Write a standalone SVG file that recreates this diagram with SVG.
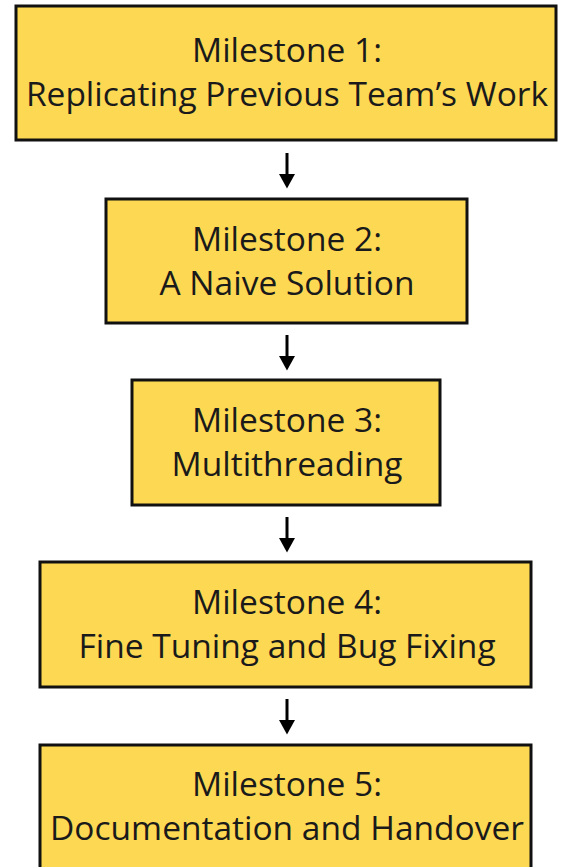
<svg xmlns="http://www.w3.org/2000/svg" width="563" height="867" viewBox="0 0 563 867">
<style>
.box{fill:#fdd853;stroke:#111;stroke-width:3}
.t{font-family:"Open Sans","Noto Sans",sans-serif;font-size:33.5px;fill:#1a1a1a;text-anchor:middle}
.c{stroke:#000;stroke-width:3;fill:none}
</style>
<defs>
<marker id="ah" markerWidth="5" markerHeight="5.5" refX="1.5" refY="2.75" orient="auto" markerUnits="strokeWidth" viewBox="0 0 5 5.5">
<path d="M0,0 L5,2.75 L0,5.5 Z" fill="#000"/>
</marker>
</defs>
<rect width="563" height="867" fill="#fff"/>
<g id="connectors">
<line class="c" x1="287" y1="153" x2="287" y2="178" marker-end="url(#ah)"/>
<line class="c" x1="287" y1="335" x2="287" y2="360" marker-end="url(#ah)"/>
<line class="c" x1="287" y1="517" x2="287" y2="542" marker-end="url(#ah)"/>
<line class="c" x1="287" y1="699" x2="287" y2="724" marker-end="url(#ah)"/>
</g>
<g id="m1">
<rect class="box" x="16" y="6" width="540" height="134"/>
<text class="t" x="287" y="62">Milestone 1:</text>
<text class="t" x="287" y="106">Replicating Previous Team’s Work</text>
</g>
<g id="m2">
<rect class="box" x="106" y="199" width="361" height="124"/>
<text class="t" x="287" y="251">Milestone 2:</text>
<text class="t" x="287" y="295">A Naive Solution</text>
</g>
<g id="m3">
<rect class="box" x="132" y="380" width="308" height="125"/>
<text class="t" x="287" y="432">Milestone 3:</text>
<text class="t" x="287" y="476">Multithreading</text>
</g>
<g id="m4">
<rect class="box" x="40" y="562" width="491" height="125"/>
<text class="t" x="287" y="614">Milestone 4:</text>
<text class="t" x="287" y="658">Fine Tuning and Bug Fixing</text>
</g>
<g id="m5">
<rect class="box" x="40" y="745" width="491" height="130"/>
<text class="t" x="287" y="796">Milestone 5:</text>
<text class="t" x="287" y="840">Documentation and Handover</text>
</g>
</svg>
